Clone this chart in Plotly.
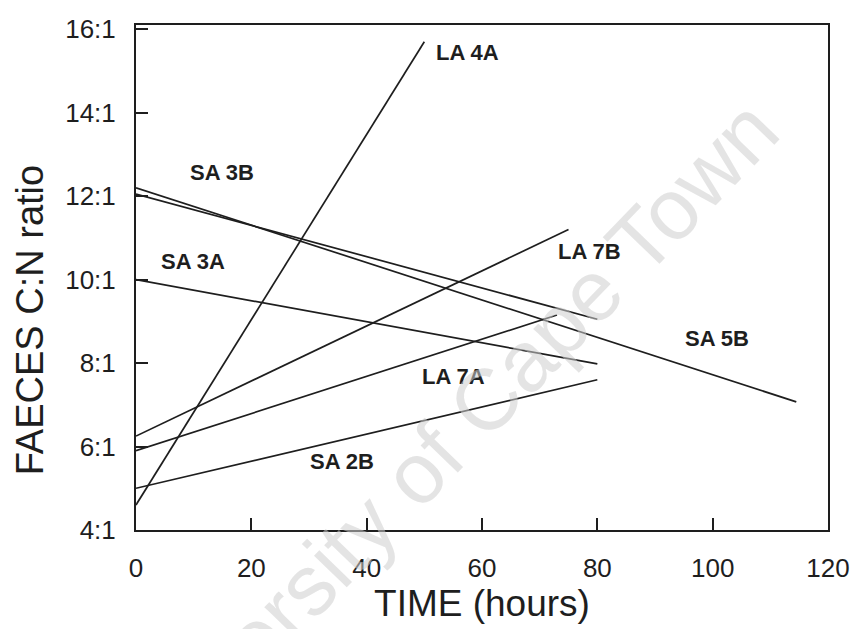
import plotly.graph_objects as go

# ---- data ----
series_names = ["LA 4A", "SA 3B", "SA 5B", "SA 3A", "LA 7B", "LA 7A", "SA 2B"]
x_start = [0, 0, 0, 0, 0, 0, 0]
x_end = [50, 80, 114.5, 80, 75, 73, 80]
y_start = [4.6, 12.05, 12.2, 10.0, 6.25, 5.9, 5.0]
y_end = [15.7, 9.05, 7.07, 7.98, 11.2, 9.15, 7.6]

label_text = ["LA 4A", "SA 3B", "SA 5B", "SA 3A", "LA 7B", "LA 7A", "SA 2B"]
label_x = [57.5, 14.9, 100.7, 9.9, 78.7, 55.0, 35.7]
label_y = [15.44, 12.56, 8.6, 10.43, 10.67, 7.67, 5.63]

y_tickvals = [4, 6, 8, 10, 12, 14, 16]
y_ticktext = ["4:1", "6:1", "8:1", "10:1", "12:1", "14:1", "16:1"]
x_tickvals = [0, 20, 40, 60, 80, 100, 120]

x_title = "TIME (hours)"
y_title = "FAECES C:N ratio"

FONT = "Liberation Sans, Arial, Helvetica, sans-serif"
INK = "#1e1e1e"

fig = go.Figure()
for name, x0, x1, y0, y1 in zip(series_names, x_start, x_end, y_start, y_end):
    fig.add_trace(go.Scatter(x=[x0, x1], y=[y0, y1], mode="lines", name=name,
                             line=dict(color=INK, width=1.7), showlegend=False))

annotations = []
for t, lx, ly in zip(label_text, label_x, label_y):
    annotations.append(dict(x=lx, y=ly, xref="x", yref="y", text=t, showarrow=False,
                            font=dict(family=FONT, size=22, color=INK, weight="bold")))

# y-axis title (sits lower than the axis centre in the reference)
annotations.append(dict(x=-0.152, y=0.415, xref="paper", yref="paper",
                        xanchor="center", yanchor="middle", textangle=-90,
                        text=y_title, showarrow=False,
                        font=dict(family=FONT, size=38, color=INK)))

# faint watermark
annotations.append(dict(x=0.44, y=0.165, xref="paper", yref="paper",
                        xanchor="center", yanchor="middle",
                        text="University of Cape Town", showarrow=False, textangle=-46,
                        font=dict(family=FONT, size=86, color="rgba(205,205,205,0.55)")))

# the page body adds an 8px offset; margins compensate so the plot frame lands in place
fig.update_layout(
    width=860, height=629,
    margin=dict(l=128, r=40, t=17, b=107),
    paper_bgcolor="white", plot_bgcolor="white",
    font=dict(family=FONT, color=INK),
    annotations=annotations,
    xaxis=dict(range=[0, 120], tickvals=x_tickvals, ticks="inside", ticklen=12,
               tickwidth=1.5, tickcolor=INK, showline=True, linewidth=2, linecolor=INK,
               mirror=True, showgrid=False, zeroline=False, automargin=False,
               tickfont=dict(family=FONT, size=26, color=INK), ticklabelstandoff=14,
               title=dict(text=x_title, font=dict(family=FONT, size=37, color=INK),
                          standoff=7)),
    yaxis=dict(range=[4, 16.1], tickvals=y_tickvals, ticktext=y_ticktext, ticks="inside",
               ticklen=12, tickwidth=1.5, tickcolor=INK, showline=True, linewidth=2,
               linecolor=INK, mirror=True, showgrid=False, zeroline=False, automargin=False,
               tickfont=dict(family=FONT, size=26, color=INK), ticklabelstandoff=13),
)

fig.write_html("out.html")
